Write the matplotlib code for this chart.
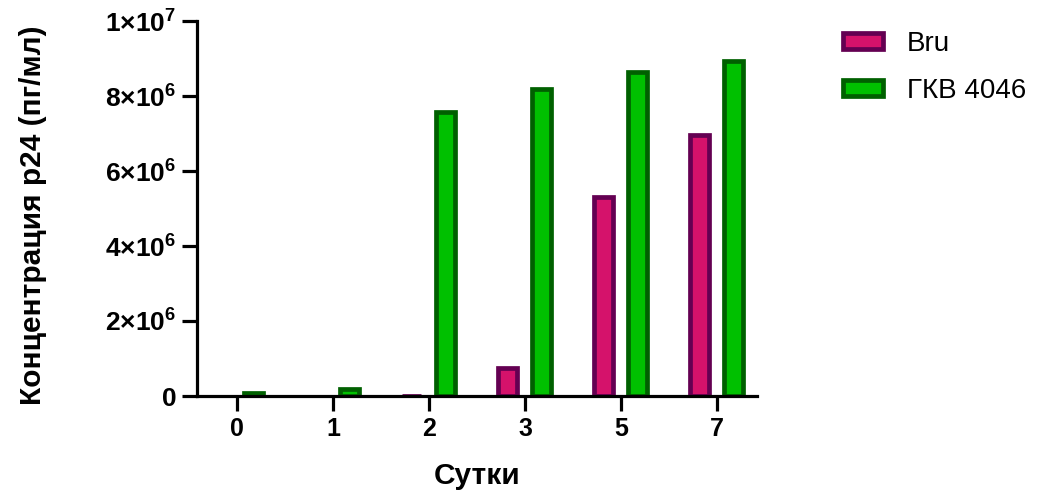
import matplotlib
matplotlib.use("Agg")
import matplotlib.pyplot as plt
import numpy as np

days = ["0", "1", "2", "3", "5", "7"]
bru = [np.nan, np.nan, 0.01e6, 0.74e6, 5.31e6, 6.96e6]
gkv = [0.08e6, 0.19e6, 7.57e6, 8.19e6, 8.64e6, 8.93e6]
yticks = [0, 2e6, 4e6, 6e6, 8e6, 1e7]
ytick_labels = ["0", r"$\mathbf{2{\times}10^{6}}$", r"$\mathbf{4{\times}10^{6}}$",
                r"$\mathbf{6{\times}10^{6}}$", r"$\mathbf{8{\times}10^{6}}$",
                r"$\mathbf{1{\times}10^{7}}$"]
series_names = ["Bru", "ГКВ 4046"]

plt.rcParams['font.family'] = ['Liberation Sans', 'DejaVu Sans']
plt.rcParams['mathtext.fontset'] = 'custom'
plt.rcParams['mathtext.rm'] = 'Liberation Sans'
plt.rcParams['mathtext.bf'] = 'Liberation Sans:bold'

W, H = 1043, 492
fig = plt.figure(figsize=(W / 100, H / 100), dpi=100)
ax = fig.add_axes([197 / W, (H - 396) / H, (757 - 197) / W, (396 - 21) / H])

x = np.arange(len(days))
bw = 0.2
ax.bar(x - 0.18, bru, width=bw, color="#D5126B", edgecolor="#640052", linewidth=3.4,
       label=series_names[0], zorder=3)
ax.bar(x + 0.17, gkv, width=bw, color="#00C000", edgecolor="#006000", linewidth=3.4,
       label=series_names[1], zorder=3)

ax.set_xlim(-40 / 96, 5 + 40 / 96)
ax.set_ylim(0, 1e7)
ax.set_xticks(x)
ax.set_xticklabels(days, fontsize=18, fontweight="bold")
ax.set_yticks(yticks)
ax.set_yticklabels(ytick_labels, fontsize=19, fontweight="bold")

for s in ["top", "right"]:
    ax.spines[s].set_visible(False)
for s in ["left", "bottom"]:
    ax.spines[s].set_linewidth(2.3)
    ax.spines[s].set_zorder(4)
ax.tick_params(axis="both", width=2.3, length=11, pad=4)

ax.set_xlabel("Сутки", fontsize=21.5, fontweight="bold")
ax.set_ylabel("Концентрация p24 (пг/мл)", fontsize=21.5, fontweight="bold")
ax.xaxis.set_label_coords(0.5, (396 - 462) / 375)
ax.yaxis.set_label_coords((47 - 197) / 560, (396 - 215) / 375)

ax.legend(loc="upper left", bbox_to_anchor=(843 / W, 1 - 31 / H), bbox_transform=fig.transFigure,
          frameon=False, fontsize=20, handlelength=1.45, handleheight=0.5,
          labelspacing=0.75, handletextpad=0.85, borderpad=0, borderaxespad=0)

fig.savefig("out.png", dpi=100)
